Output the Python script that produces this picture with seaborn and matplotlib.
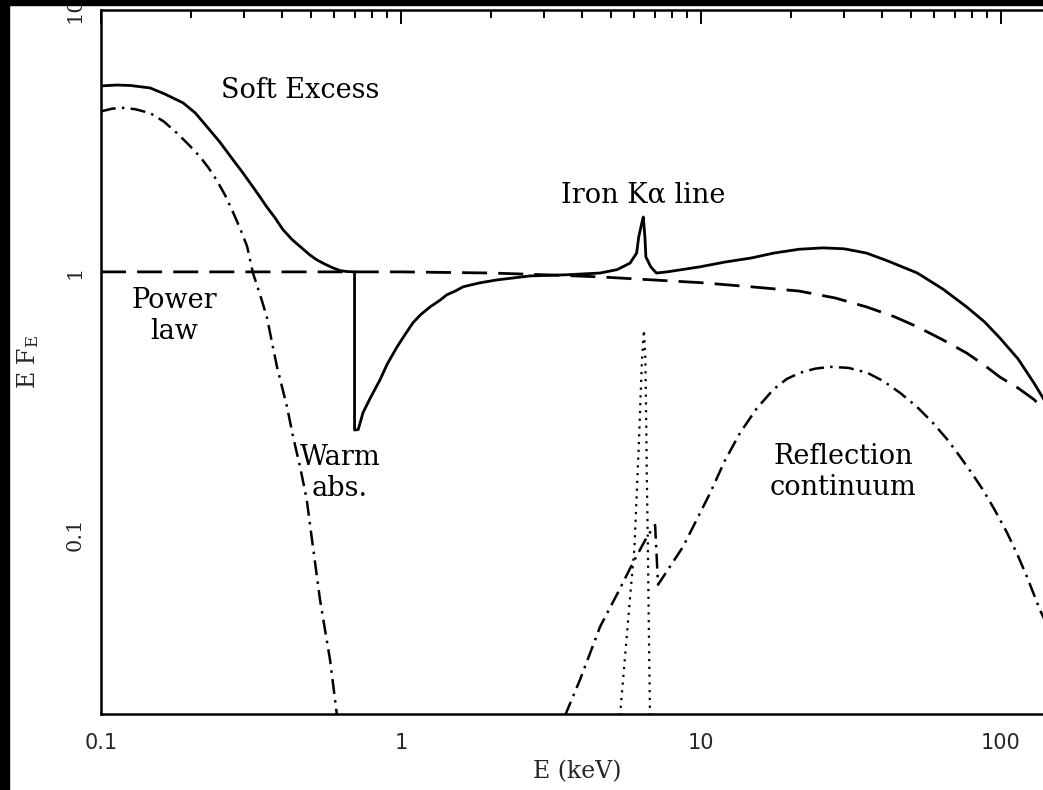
import numpy as np
import pandas as pd
import matplotlib
matplotlib.use("Agg")
import matplotlib.pyplot as plt
import seaborn as sns

# ---------------- data ----------------
total_E = [0.1, 0.1131, 0.125, 0.1457, 0.163, 0.1877, 0.206, 0.2257, 0.249, 0.2754, 0.297,
           0.321, 0.339, 0.357, 0.38, 0.404, 0.433, 0.461, 0.497, 0.525, 0.558, 0.593,
           0.626, 0.66, 0.70, 0.70, 0.72, 0.747, 0.79, 0.851, 0.90, 0.97, 1.03, 1.096, 1.16,
           1.25, 1.35, 1.42, 1.52, 1.61, 1.83, 2.09, 2.69, 3.57, 4.61, 5.25, 5.8, 6.1, 6.2,
           6.35, 6.42, 6.5, 6.55, 6.8, 7.1, 7.7, 9.9, 12.0, 14.7, 17.5, 21.2, 25.5, 30.0,
           35.6, 42.0, 52.6, 64.0, 76.8, 88.0, 99.0, 114.0, 129.0, 138.0, 149.0]
total_F = [5.13, 5.17, 5.15, 5.04, 4.78, 4.42, 4.05, 3.58, 3.13, 2.68, 2.39,
           2.11, 1.93, 1.77, 1.61, 1.45, 1.33, 1.25, 1.16, 1.11, 1.07, 1.036,
           1.012, 1.003, 1.0, 0.249, 0.25, 0.29, 0.33, 0.387, 0.445, 0.517, 0.575, 0.639, 0.685,
           0.735, 0.78, 0.817, 0.846, 0.877, 0.908, 0.932, 0.965, 0.975, 0.99, 1.02, 1.08, 1.18, 1.36,
           1.54, 1.62, 1.36, 1.14, 1.045, 0.99, 1.0, 1.045, 1.09, 1.13, 1.18, 1.22, 1.235, 1.225,
           1.18, 1.1, 0.99, 0.86, 0.735, 0.645, 0.56, 0.465, 0.375, 0.33, 0.28]

power_E = [0.1, 0.3, 1.0, 2.0, 3.0, 4.6, 7.1, 9.9, 14.7, 21.2, 28.0, 35.6, 44.0, 52.6, 64.0,
           76.8, 88.0, 99.0, 114.0, 129.0, 138.0, 149.0]
power_F = [1.0, 1.0, 1.0, 0.99, 0.975, 0.957, 0.93, 0.91, 0.877, 0.845, 0.795, 0.735, 0.675,
           0.617, 0.55, 0.49, 0.44, 0.397, 0.36, 0.325, 0.30, 0.27]

soft_E = [0.1, 0.109, 0.1184, 0.13, 0.1457, 0.162, 0.179, 0.196, 0.214, 0.228, 0.243, 0.26,
          0.276, 0.292, 0.307, 0.321, 0.34, 0.357, 0.386, 0.417, 0.437, 0.461, 0.485, 0.505,
          0.537, 0.58, 0.612]
soft_F = [4.1, 4.2, 4.23, 4.18, 4.04, 3.75, 3.39, 3.06, 2.75, 2.5, 2.24, 1.95,
          1.68, 1.45, 1.25, 0.99, 0.81, 0.673, 0.434, 0.305, 0.234, 0.180, 0.135, 0.095,
          0.056, 0.033, 0.0202]

refl_E = [3.52, 3.95, 4.61, 5.3, 5.93, 6.61, 7.03, 7.19, 8.71, 10.72, 12.0, 13.5, 15.3, 17.4,
          19.3, 21.4, 24.0, 26.9, 31.0, 35.8, 40.5, 46.1, 52.5, 59.3, 66.0, 73.0, 80.0, 87.1,
          95.0, 104.7, 113.0, 122.0, 135.0, 149.0]
refl_F = [0.0202, 0.0277, 0.0442, 0.06, 0.0775, 0.0975, 0.108, 0.0639, 0.0892, 0.143, 0.19, 0.243,
          0.30, 0.355, 0.39, 0.412, 0.427, 0.434, 0.43, 0.412, 0.383, 0.345, 0.305, 0.265,
          0.23, 0.197, 0.17, 0.147, 0.124, 0.101, 0.084, 0.0685, 0.051, 0.040]

line_E = [5.37, 5.8, 6.0, 6.2, 6.35, 6.45, 6.52, 6.56, 6.6, 6.65, 6.7, 6.76]
line_F = [0.0202, 0.057, 0.089, 0.215, 0.45, 0.60, 0.47, 0.29, 0.16, 0.089, 0.043, 0.0202]

x_ticks = [0.1, 1, 10, 100]
x_ticklabels = ["0.1", "1", "10", "100"]
y_ticks = [0.1, 1, 10]
y_ticklabels = ["0.1", "1", "10"]

# ---------------- figure ----------------
sns.set_theme(style="white")
plt.rcParams["font.family"] = ["DejaVu Serif"]
plt.rcParams["mathtext.fontset"] = "dejavuserif"

W, H = 1043, 790
fig = plt.figure(figsize=(W / 100, H / 100), dpi=100)
ax = fig.add_axes([101 / W, 1 - 714 / H, (1053 - 101) / W, (714 - 10) / H])

lw = 2.0
sns.lineplot(x=total_E, y=total_F, ax=ax, estimator=None, sort=False,
             color="black", linewidth=lw)
sns.lineplot(x=power_E, y=power_F, ax=ax, estimator=None, sort=False,
             color="black", linewidth=lw, linestyle=(0, (9, 4)))
sns.lineplot(x=soft_E, y=soft_F, ax=ax, estimator=None, sort=False,
             color="black", linewidth=lw * 0.9, linestyle=(0, (6, 2.5, 1, 2.5)))
sns.lineplot(x=refl_E, y=refl_F, ax=ax, estimator=None, sort=False,
             color="black", linewidth=lw * 0.9, linestyle=(0, (6, 2.5, 1, 2.5)))
sns.lineplot(x=line_E, y=line_F, ax=ax, estimator=None, sort=False,
             color="black", linewidth=lw * 0.8, linestyle=(0, (1, 2.5)))

ax.set_xscale("log")
ax.set_yscale("log")
ax.set_xlim(0.1, 149)
ax.set_ylim(0.0205, 10)

ax.set_xticks(x_ticks)
ax.set_xticklabels(x_ticklabels, fontsize=15, family="DejaVu Sans")
ax.set_yticks(y_ticks)
ax.set_yticklabels(y_ticklabels, fontsize=15, rotation=90, va="center")
ax.xaxis.set_minor_locator(matplotlib.ticker.LogLocator(base=10, subs=np.arange(2, 10)))
ax.yaxis.set_minor_locator(matplotlib.ticker.LogLocator(base=10, subs=np.arange(2, 10)))
ax.xaxis.set_minor_formatter(matplotlib.ticker.NullFormatter())
ax.yaxis.set_minor_formatter(matplotlib.ticker.NullFormatter())
ax.tick_params(which="both", direction="in", top=True, right=False, color="black", width=1.4)
ax.tick_params(which="major", length=10)
ax.tick_params(which="minor", length=6)
ax.tick_params(axis="x", which="major", pad=14)
ax.tick_params(axis="y", which="major", pad=12)

for s in ax.spines.values():
    s.set_color("black")
    s.set_linewidth(1.8)

ax.set_xlabel("E (keV)", fontsize=17)
ax.set_ylabel(r"E F$_\mathrm{E}$", fontsize=17)
ax.xaxis.set_label_coords(0.5, -(760 - 714) / 704)
ax.yaxis.set_label_coords((41 - 101) / 952, 0.5)

tk = dict(fontsize=19.5, ha="center", va="center", color="black", linespacing=1.2)
ax.text((300 - 101) / 952, (714 - 91) / 704, "Soft Excess", transform=ax.transAxes, **tk)
ax.text((174 - 101) / 952, (714 - 316) / 704, "Power\nlaw", transform=ax.transAxes, **tk)
ax.text((340 - 101) / 952, (714 - 473) / 704, "Warm\nabs.", transform=ax.transAxes, **tk)
ax.text((643 - 101) / 952, (714 - 195) / 704, "Iron K\u03b1 line", transform=ax.transAxes, **tk)
ax.text((843 - 101) / 952, (714 - 472) / 704, "Reflection\ncontinuum", transform=ax.transAxes, **tk)

# scanned-page dark borders (top and left)
fig.patches.append(matplotlib.patches.Rectangle((0, 1 - 5 / H), 1, 5 / H, transform=fig.transFigure,
                                                color="black", zorder=10))
fig.patches.append(matplotlib.patches.Rectangle((0, 0), 9 / W, 1, transform=fig.transFigure,
                                                color="black", zorder=10))

fig.savefig("out.png", dpi=100, facecolor="white")
